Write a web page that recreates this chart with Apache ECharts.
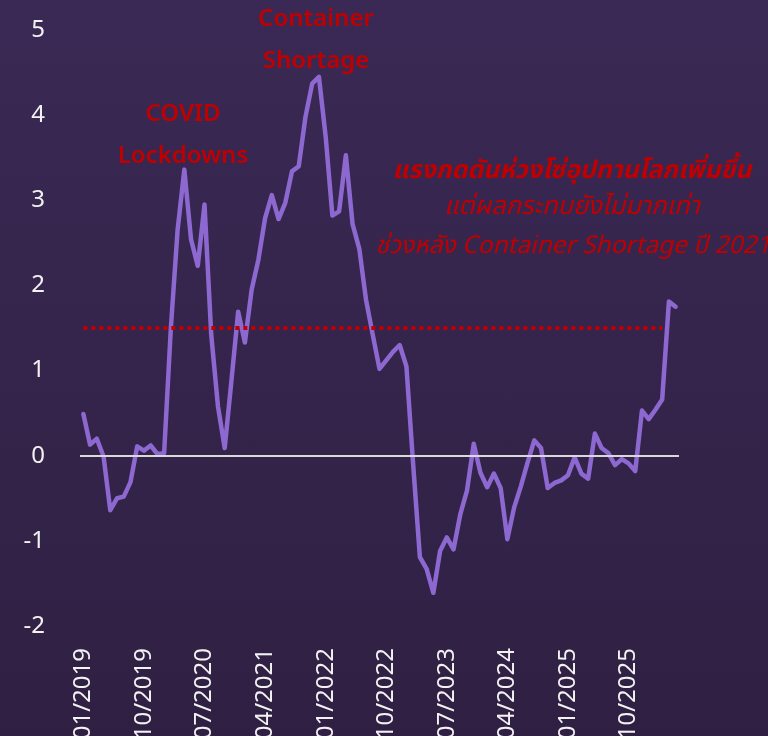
<!DOCTYPE html>
<html>
<head>
<meta charset="utf-8">
<script src="https://cdn.jsdelivr.net/npm/echarts@6/dist/echarts.min.js"></script>
<style>
html,body{margin:0;padding:0;}
#chart{width:768px;height:736px;background:linear-gradient(to bottom,#3a2954 0%,#2f2043 100%);}
</style>
</head>
<body>
<div id="chart"></div>
<script>
const categories = [
 '01/2019','02/2019','03/2019','04/2019','05/2019','06/2019','07/2019','08/2019','09/2019','10/2019','11/2019','12/2019',
 '01/2020','02/2020','03/2020','04/2020','05/2020','06/2020','07/2020','08/2020','09/2020','10/2020','11/2020','12/2020',
 '01/2021','02/2021','03/2021','04/2021','05/2021','06/2021','07/2021','08/2021','09/2021','10/2021','11/2021','12/2021',
 '01/2022','02/2022','03/2022','04/2022','05/2022','06/2022','07/2022','08/2022','09/2022','10/2022','11/2022','12/2022',
 '01/2023','02/2023','03/2023','04/2023','05/2023','06/2023','07/2023','08/2023','09/2023','10/2023','11/2023','12/2023',
 '01/2024','02/2024','03/2024','04/2024','05/2024','06/2024','07/2024','08/2024','09/2024','10/2024','11/2024','12/2024',
 '01/2025','02/2025','03/2025','04/2025','05/2025','06/2025','07/2025','08/2025','09/2025','10/2025','11/2025','12/2025',
 '01/2026','02/2026','03/2026','04/2026','05/2026'
];
const pressureIndex = [
 0.49,0.13,0.20,-0.01,-0.64,-0.50,-0.48,-0.31,0.11,0.06,0.12,0.02,
 0.03,1.50,2.65,3.36,2.54,2.23,2.95,1.42,0.58,0.09,0.88,1.69,
 1.33,1.95,2.30,2.79,3.06,2.78,2.97,3.34,3.40,3.98,4.37,4.45,
 3.75,2.82,2.87,3.53,2.72,2.43,1.83,1.42,1.02,1.12,1.22,1.30,
 1.05,-0.10,-1.19,-1.33,-1.61,-1.12,-0.96,-1.10,-0.69,-0.41,0.14,-0.20,
 -0.37,-0.21,-0.38,-0.98,-0.61,-0.36,-0.08,0.18,0.09,-0.38,-0.32,-0.29,
 -0.23,-0.02,-0.21,-0.27,0.26,0.09,0.03,-0.11,-0.04,-0.09,-0.18,0.53,
 0.43,0.54,0.66,1.81,1.75
];
const thresholdValue = 1.5;
const thresholdStartIndex = 0;
const thresholdEndIndex = 86;
const yTicks = { min: -2, max: 5, step: 1 };
const annotations = {
  covid: 'COVID\nLockdowns',
  container: 'Container\nShortage',
  thai1: 'แรงกดดันห่วงโซ่อุปทานโลกเพิ่มขึ้น',
  thai2: 'แต่ผลกระทบยังไม่มากเท่า',
  thai3: 'ช่วงหลัง Container Shortage ปี 2021'
};

const chart = echarts.init(document.getElementById('chart'), null, {renderer: 'canvas'});
const RED = '#c00000';
const FONT = '"Noto Sans", "Open Sans", sans-serif';
const THAI_FONT = '"Noto Sans Thai", "Noto Sans", sans-serif';
const option = {
  backgroundColor: 'transparent',
  animation: false,
  grid: { left: 80, right: 89, top: 30, bottom: 110, containLabel: false, outerBoundsMode: 'none' },
  xAxis: {
    type: 'category',
    data: categories,
    boundaryGap: true,
    axisLine: { show: false, onZero: false },
    axisTick: { show: false },
    splitLine: { show: false },
    axisLabel: {
      interval: 8, rotate: 90, margin: 22,
      color: '#f2f2f2', fontSize: 24, fontFamily: FONT
    }
  },
  yAxis: {
    type: 'value',
    min: yTicks.min, max: yTicks.max, interval: yTicks.step,
    axisLine: { show: false },
    axisTick: { show: false },
    splitLine: { show: false },
    axisLabel: { color: '#f2f2f2', fontSize: 24, fontFamily: FONT, margin: 35 }
  },
  series: [{
    type: 'line',
    data: pressureIndex,
    symbol: 'none',
    lineStyle: { color: '#8d68d0', width: 4.5, cap: 'round', join: 'round' },
    z: 3,
    markLine: {
      silent: true,
      symbol: ['none', 'none'],
      label: { show: false },
      emphasis: { disabled: true },
      data: [
        { yAxis: 0, lineStyle: { color: '#d9d9d9', width: 2, type: 'solid' } },
        [
          { coord: [thresholdStartIndex, thresholdValue], lineStyle: { color: RED, width: 4, type: [4, 4] } },
          { coord: [thresholdEndIndex, thresholdValue] }
        ]
      ]
    }
  }],
  graphic: [
    { type: 'text', x: 183, y: 135, z: 10, style: { text: annotations.covid, align: 'center', verticalAlign: 'middle', fill: RED, font: '600 24px ' + FONT, lineHeight: 42 } },
    { type: 'text', x: 316, y: 40, z: 10, style: { text: annotations.container, align: 'center', verticalAlign: 'middle', fill: RED, font: '600 24px ' + FONT, lineHeight: 42 } },
    { type: 'text', x: 572, y: 173, z: 10, style: { text: annotations.thai1, align: 'center', verticalAlign: 'middle', fill: RED, font: 'italic bold 25px ' + THAI_FONT } },
    { type: 'text', x: 572, y: 209, z: 10, style: { text: annotations.thai2, align: 'center', verticalAlign: 'middle', fill: RED, font: 'italic 25.5px ' + THAI_FONT } },
    { type: 'text', x: 573, y: 248, z: 10, style: { text: annotations.thai3, align: 'center', verticalAlign: 'middle', fill: RED, font: 'italic 24.5px ' + THAI_FONT } }
  ]
};
chart.setOption(option);
</script>
</body>
</html>
